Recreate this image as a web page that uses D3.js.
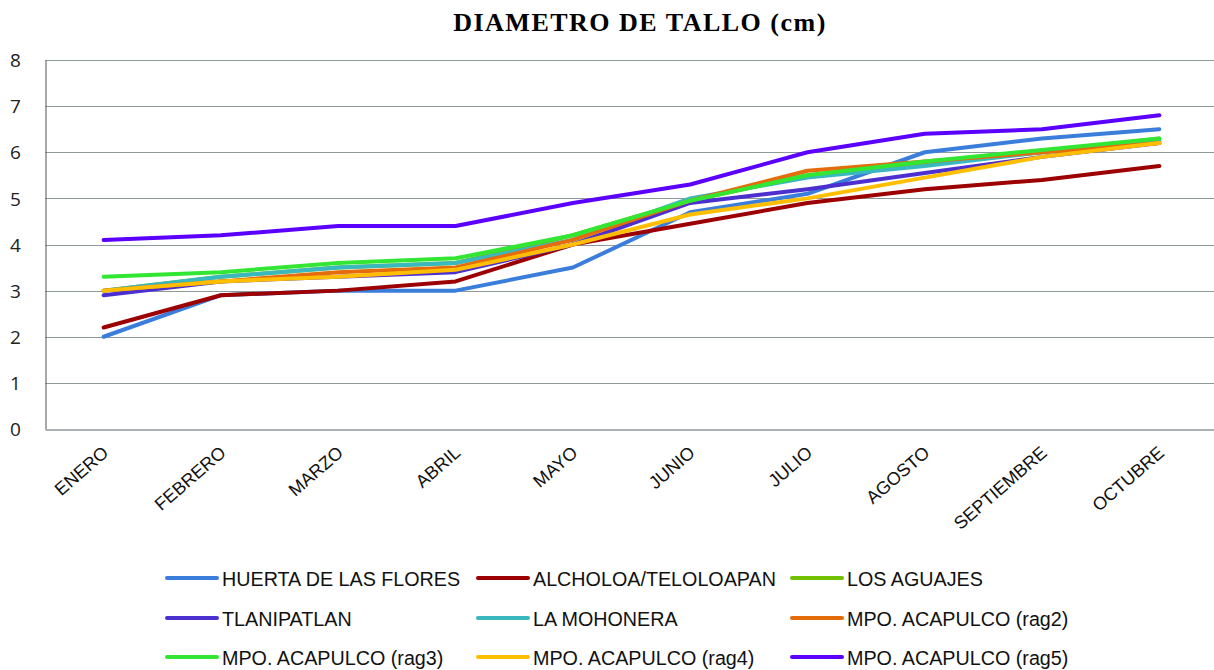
<!DOCTYPE html>
<html>
<head>
<meta charset="utf-8">
<script src="https://cdn.jsdelivr.net/npm/d3@7"></script>
<style>
  body { margin: 0; background: #fff; }
  svg { display: block; }
</style>
</head>
<body>
<div class="chart"></div>
<script>
// data
var months = ["ENERO", "FEBRERO", "MARZO", "ABRIL", "MAYO", "JUNIO", "JULIO", "AGOSTO", "SEPTIEMBRE", "OCTUBRE"];
var seriesNames = ["HUERTA DE LAS FLORES", "ALCHOLOA/TELOLOAPAN", "LOS AGUAJES",
                   "TLANIPATLAN", "LA MOHONERA", "MPO. ACAPULCO (rag2)",
                   "MPO. ACAPULCO (rag3)", "MPO. ACAPULCO (rag4)", "MPO. ACAPULCO (rag5)"];
var huerta     = [2.0, 2.9, 3.0, 3.0, 3.5, 4.7, 5.1, 6.0, 6.3, 6.5];
var alcholoa   = [2.2, 2.9, 3.0, 3.2, 4.0, 4.45, 4.9, 5.2, 5.4, 5.7];
var aguajes    = [3.0, 3.3, 3.5, 3.6, 4.2, 4.95, 5.5, 5.75, 6.0, 6.3];
var tlanipatlan= [2.9, 3.2, 3.3, 3.4, 4.0, 4.9, 5.2, 5.55, 5.9, 6.2];
var mohonera   = [3.0, 3.3, 3.5, 3.6, 4.1, 5.0, 5.45, 5.7, 6.0, 6.25];
var rag2       = [3.0, 3.2, 3.4, 3.5, 4.1, 4.95, 5.6, 5.8, 6.0, 6.2];
var rag3       = [3.3, 3.4, 3.6, 3.7, 4.2, 4.95, 5.5, 5.8, 6.05, 6.3];
var rag4       = [3.0, 3.2, 3.3, 3.45, 4.0, 4.65, 5.0, 5.45, 5.9, 6.2];
var rag5       = [4.1, 4.2, 4.4, 4.4, 4.9, 5.3, 6.0, 6.4, 6.5, 6.8];
var yTicks = [0, 1, 2, 3, 4, 5, 6, 7, 8];
var colors = ["#3a7ddb", "#9c0000", "#72c000", "#4b2fcf", "#3ab8c0", "#e46c0a", "#33e633", "#ffbe00", "#5b00ff"];

var allSeries = [huerta, alcholoa, aguajes, tlanipatlan, mohonera, rag2, rag3, rag4, rag5];

var width = 1214, height = 670;
var plotLeft = 45, plotRight = 1218, plotTop = 60, plotBottom = 429;

var svg = d3.select(".chart").append("svg")
    .attr("width", width)
    .attr("height", height);

var x = d3.scaleBand().domain(months).range([plotLeft, plotRight]);
var y = d3.scaleLinear().domain([0, 8]).range([plotBottom, plotTop]);

// title
svg.append("text")
    .attr("x", 640)
    .attr("y", 31)
    .attr("text-anchor", "middle")
    .style("font-family", "'Liberation Serif', 'Times New Roman', serif")
    .style("font-weight", "bold")
    .style("font-size", "26px")
    .style("letter-spacing", "1.5px")
    .text("DIAMETRO DE TALLO (cm)");

// gridlines
svg.append("g")
    .selectAll("line")
    .data(yTicks.filter(function(d){ return d > 0; }))
    .enter()
    .append("line")
    .attr("x1", plotLeft).attr("x2", width)
    .attr("y1", function(d){ return Math.round(y(d)) + 0.5; })
    .attr("y2", function(d){ return Math.round(y(d)) + 0.5; })
    .attr("stroke", "#8c9a9a")
    .attr("stroke-width", 1);

// y axis
var yAxis = d3.axisLeft(y).tickValues(yTicks).tickSize(0).tickPadding(18);
var gy = svg.append("g")
    .attr("transform", "translate(" + (plotLeft + 0.5) + ",0)")
    .call(yAxis);
gy.select(".domain").attr("stroke", "#6e6e6e").attr("stroke-width", 1.2);
gy.selectAll("text")
    .style("font-family", "'Open Sans', 'DejaVu Sans', sans-serif")
    .style("font-size", "19px")
    .attr("fill", "#222")
    .attr("text-anchor", "middle")
    .attr("x", -30)
    .attr("dy", "0.35em");

// x axis
var xAxis = d3.axisBottom(x).tickSize(0).tickPadding(0);
var gx = svg.append("g")
    .attr("transform", "translate(0," + (plotBottom + 0.5) + ")")
    .call(xAxis);
gx.select(".domain").attr("stroke", "#8c9a9a").attr("stroke-width", 1.5);
gx.selectAll("text")
    .style("font-family", "'Liberation Sans', Arial, sans-serif")
    .style("font-size", "18px")
    .attr("fill", "#111")
    .attr("text-anchor", "end")
    .attr("y", 0)
    .attr("dy", 0)
    .attr("transform", "translate(6,25) rotate(-41)");

// lines
var line = d3.line()
    .x(function(d, i){ return x(months[i]) + x.bandwidth() / 2; })
    .y(function(d){ return y(d); });

svg.append("g")
    .selectAll("path")
    .data(allSeries)
    .enter()
    .append("path")
    .attr("d", line)
    .attr("fill", "none")
    .attr("stroke", function(d, i){ return colors[i]; })
    .attr("stroke-width", 4)
    .attr("stroke-linecap", "round")
    .attr("stroke-linejoin", "round");

// legend
var legX = [165, 476, 790], legY = [578, 618, 657];
var leg = svg.append("g")
    .selectAll("g")
    .data(seriesNames)
    .enter()
    .append("g")
    .attr("transform", function(d, i){
        return "translate(" + legX[i % 3] + "," + legY[Math.floor(i / 3)] + ")";
    });

leg.append("line")
    .attr("x1", 2).attr("x2", 52)
    .attr("y1", 0).attr("y2", 0)
    .attr("stroke", function(d, i){ return colors[i]; })
    .attr("stroke-width", 4)
    .attr("stroke-linecap", "round");

leg.append("text")
    .attr("transform", "translate(57,0) scale(0.94,1)")
    .attr("dy", "0.36em")
    .style("font-family", "'Liberation Sans', Arial, sans-serif")
    .style("font-size", "21px")
    .attr("fill", "#111")
    .text(function(d){ return d; });
</script>
</body>
</html>
